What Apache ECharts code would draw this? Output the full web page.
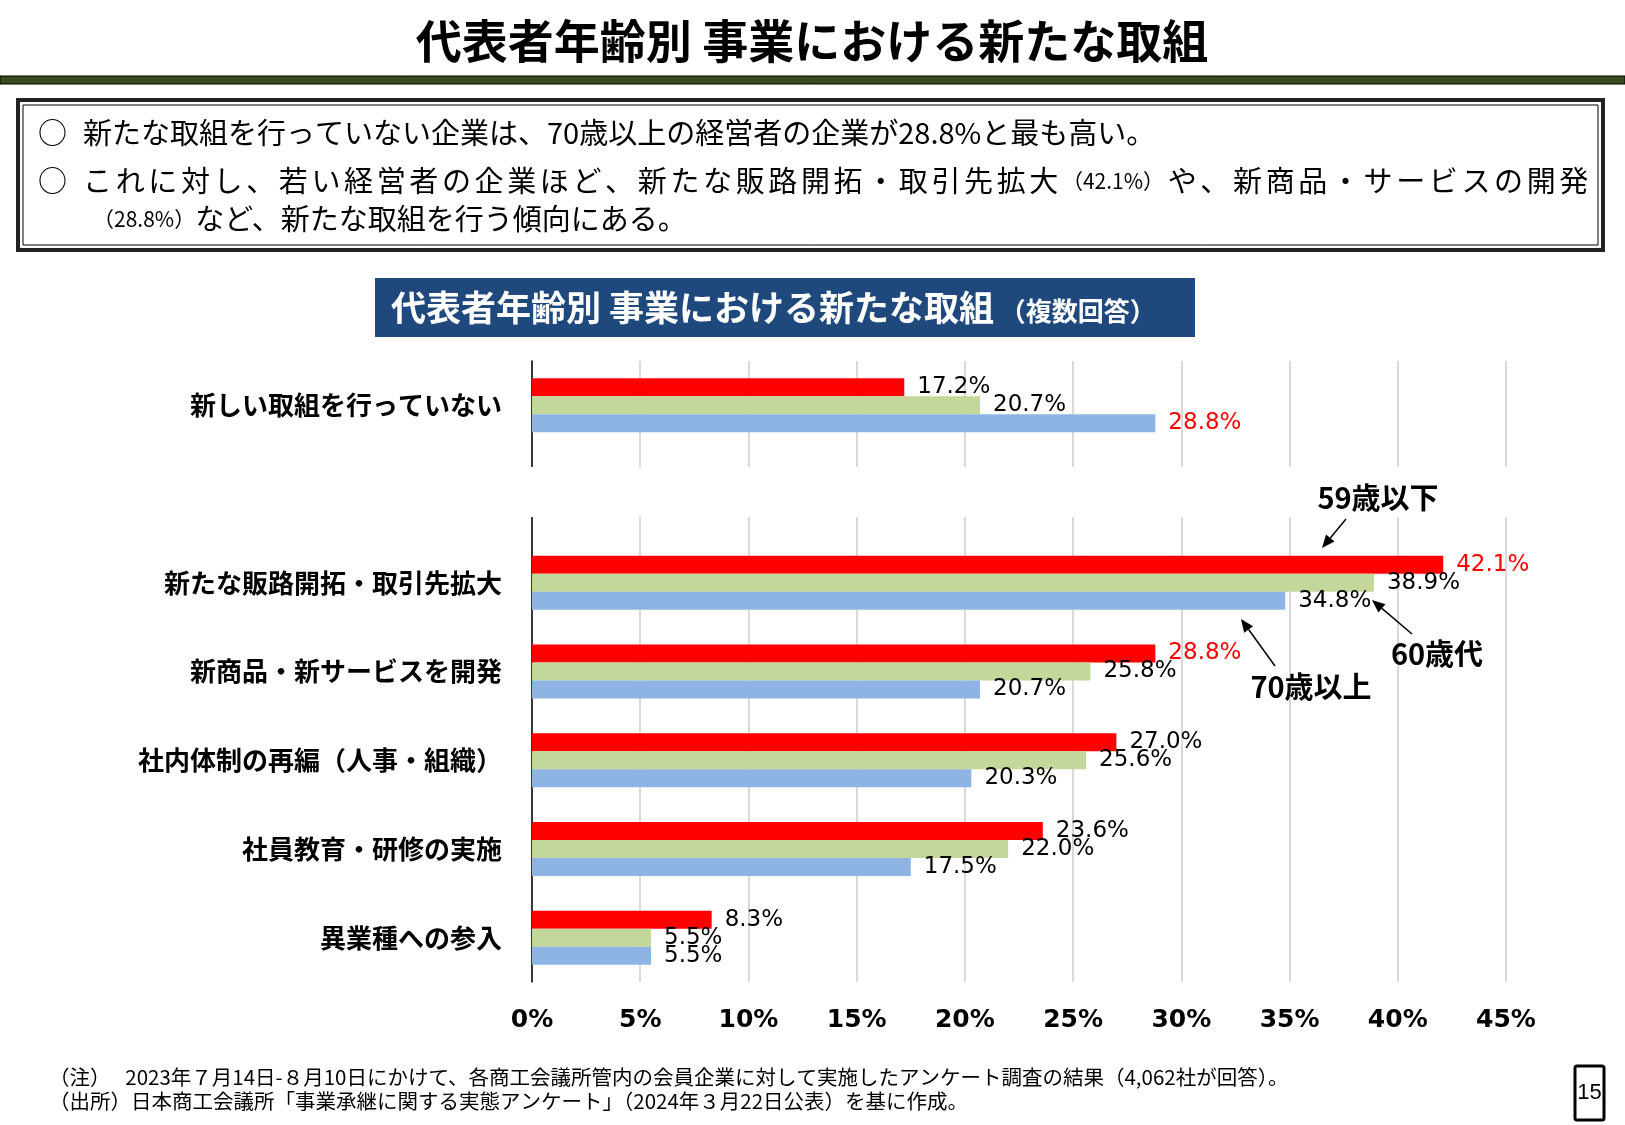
<!DOCTYPE html>
<html>
<head>
<meta charset="utf-8">
<title>代表者年齢別 事業における新たな取組</title>
<script src="https://cdn.jsdelivr.net/npm/echarts@6/dist/echarts.min.js"></script>
<style>
  html, body { margin: 0; padding: 0; background: #fff; }
  #main { width: 1625px; height: 1125px; }
</style>
</head>
<body>
<div id="main"></div>
<script>
// 項目（上から順）。2番目は上下の枠を分ける空き行
const categories = ['新しい取組を行っていない', '', '新たな販路開拓・取引先拡大', '新商品・新サービスを開発', '社内体制の再編（人事・組織）', '社員教育・研修の実施', '異業種への参入']
const seriesNames = ['59歳以下', '60歳代', '70歳以上']
const under59 = [17.2, null, 42.1, 28.8, 27.0, 23.6, 8.3]
const age60s = [20.7, null, 38.9, 25.8, 25.6, 22.0, 5.5]
const over70 = [28.8, null, 34.8, 20.7, 20.3, 17.5, 5.5]
const colors = ['#ff0000', '#c4d79b', '#8db4e2']
// x軸目盛 0%〜45%
const xMin = 0
const xMax = 45
const xStep = 5
// 赤字のラベル [系列, 項目]
const redLabels = [[0, 2], [0, 3], [2, 0]]

const CJK = 'Noto Sans CJK JP'
const NUM = 'DejaVu Sans'

function isRed (s, i) {
  return redLabels.some(function (r) { return r[0] === s && r[1] === i })
}

function makeSeries (name, values, s) {
  return {
    name: name,
    type: 'bar',
    barWidth: 18,
    barGap: '0%',
    itemStyle: { color: colors[s] },
    label: {
      show: true,
      position: 'right',
      distance: 13,
      fontFamily: NUM,
      fontSize: 23,
      formatter: function (p) {
        return p.value == null ? '' : p.value.toFixed(1) + '%'
      }
    },
    data: values.map(function (v, i) {
      return { value: v, label: { color: isRed(s, i) ? '#ff0000' : '#000' } }
    })
  }
}

// 矢印（線＋三角）
function arrow (x1, y1, x2, y2) {
  const a = Math.atan2(y2 - y1, x2 - x1)
  const len = 13
  const w = 5.5
  const bx = x2 - len * Math.cos(a)
  const by = y2 - len * Math.sin(a)
  return [
    { type: 'line', z: 100, shape: { x1: x1, y1: y1, x2: bx, y2: by }, style: { stroke: '#000', lineWidth: 1.5 } },
    {
      type: 'polygon',
      z: 100,
      shape: { points: [[x2, y2], [bx + w * Math.sin(a), by - w * Math.cos(a)], [bx - w * Math.sin(a), by + w * Math.cos(a)]] },
      style: { fill: '#000' }
    }
  ]
}

function txt (x, y, text, size, opts) {
  opts = opts || {}
  return {
    type: 'text',
    z: 100,
    x: x,
    y: y,
    style: {
      text: text,
      fontSize: size,
      fontFamily: opts.family || CJK,
      fontWeight: opts.bold ? 'bold' : 'normal',
      fill: opts.color || '#000',
      align: opts.align || 'left',
      verticalAlign: 'middle',
      rich: opts.rich
    }
  }
}

// 2行目は枠いっぱいに均等割り付け
const ctx = document.createElement('canvas').getContext('2d')
function textWidth (s, size) {
  ctx.font = size + 'px "' + CJK + '"'
  return ctx.measureText(s).width
}
const line2a = 'これに対し、若い経営者の企業ほど、新たな販路開拓・取引先拡大'
const line2b = '（42.1%）'
const line2c = 'や、新商品・サービスの開発'
const bodySize = 29
const smallSize = 21
const line2Start = 83
const line2End = 1586
const nGaps = line2a.length + 1 + line2c.length - 1
const gap = (line2End - line2Start - textWidth(line2a, bodySize) - textWidth(line2b, smallSize) - textWidth(line2c, bodySize)) / nGaps
const line2Text = line2a.split('').map(function (c) { return '{a|' + c + '}' }).join('') +
  '{b|' + line2b + '}' +
  line2c.split('').map(function (c, i) { return (i === line2c.length - 1 ? '{z|' : '{a|') + c + '}' }).join('')

const graphics = [
  // ページタイトル
  txt(812, 41, '代表者年齢別 事業における新たな取組', 46, { bold: true, align: 'center' }),
  { type: 'rect', shape: { x: 0, y: 76, width: 1625, height: 8 }, style: { fill: '#3b4a1d', stroke: '#000', lineWidth: 1 } },
  // 要約の枠
  { type: 'rect', shape: { x: 18, y: 100, width: 1585, height: 150 }, style: { fill: '#fff', stroke: '#222', lineWidth: 4 } },
  { type: 'rect', shape: { x: 23, y: 105, width: 1575, height: 140 }, style: { fill: 'none', stroke: '#000', lineWidth: 1 } },
  txt(38, 133, '○', 29),
  txt(83, 133, '新たな取組を行っていない企業は、70歳以上の経営者の企業が28.8%と最も高い。', bodySize),
  txt(38, 181, '○', 29),
  txt(line2Start, 181, line2Text, bodySize, {
    rich: {
      a: { fontSize: bodySize, fontFamily: CJK, fill: '#000', padding: [0, gap, 0, 0] },
      b: { fontSize: smallSize, fontFamily: CJK, fill: '#000', padding: [0, gap, 0, 0] },
      z: { fontSize: bodySize, fontFamily: CJK, fill: '#000' }
    }
  }),
  txt(93, 219, '{b|（28.8%）}{a|など、新たな取組を行う傾向にある。}', bodySize, {
    rich: { a: { fontSize: bodySize, fontFamily: CJK, fill: '#000' }, b: { fontSize: smallSize, fontFamily: CJK, fill: '#000' } }
  }),
  // グラフの見出し
  { type: 'rect', shape: { x: 375, y: 278, width: 820, height: 59 }, style: { fill: '#1f497d' } },
  txt(391, 308, '{a|代表者年齢別 事業における新たな取組}{b| （複数回答）}', 35, {
    rich: {
      a: { fontSize: 35, fontWeight: 'bold', fontFamily: CJK, fill: '#fff' },
      b: { fontSize: 26, fontWeight: 'bold', fontFamily: CJK, fill: '#fff', padding: [6, 0, 0, 0] }
    }
  }),
  // 上下の枠の間の空白
  { type: 'rect', z: 50, shape: { x: 528, y: 467, width: 990, height: 50 }, style: { fill: '#fff' } },
  // 凡例の代わりの注記
  txt(1378, 498, '59歳以下', 29, { bold: true, align: 'center' }),
  txt(1437, 654, '60歳代', 29, { bold: true, align: 'center' }),
  txt(1311, 687, '70歳以上', 29, { bold: true, align: 'center' }),
  // 注記・出所
  txt(49, 1077, '（注）　 2023年７月14日-８月10日にかけて、各商工会議所管内の会員企業に対して実施したアンケート調査の結果（4,062社が回答）。', 20.5),
  txt(49, 1101, '（出所）日本商工会議所「事業承継に関する実態アンケート」（2024年３月22日公表）を基に作成。', 20.5),
  // ページ番号
  { type: 'rect', shape: { x: 1575, y: 1066, width: 29, height: 54, r: 2 }, style: { fill: '#fff', stroke: '#000', lineWidth: 3 } },
  txt(1589.5, 1093, '15', 22, { family: 'Liberation Sans', align: 'center' })
].concat(arrow(1346, 519, 1322, 548), arrow(1412, 634, 1372, 600), arrow(1275, 666, 1241, 619))

const chart = echarts.init(document.getElementById('main'))
chart.setOption({
  animation: false,
  grid: { left: 532, right: 119, top: 361, bottom: 143 },
  xAxis: {
    type: 'value',
    min: xMin,
    max: xMax,
    interval: xStep,
    axisLine: { show: false },
    axisTick: { show: false },
    splitLine: { lineStyle: { color: '#d9d9d9', width: 2 } },
    axisLabel: {
      margin: 26,
      color: '#000',
      fontFamily: NUM,
      fontWeight: 'bold',
      fontSize: 25,
      formatter: '{value}%'
    }
  },
  yAxis: {
    type: 'category',
    inverse: true,
    data: categories,
    axisLine: { lineStyle: { color: '#000', width: 1.5 } },
    axisTick: { show: false },
    axisLabel: {
      margin: 30,
      color: '#000',
      fontFamily: CJK,
      fontWeight: 'bold',
      fontSize: 26
    }
  },
  series: [
    makeSeries(seriesNames[0], under59, 0),
    makeSeries(seriesNames[1], age60s, 1),
    makeSeries(seriesNames[2], over70, 2)
  ],
  graphic: graphics
})
</script>
</body>
</html>
